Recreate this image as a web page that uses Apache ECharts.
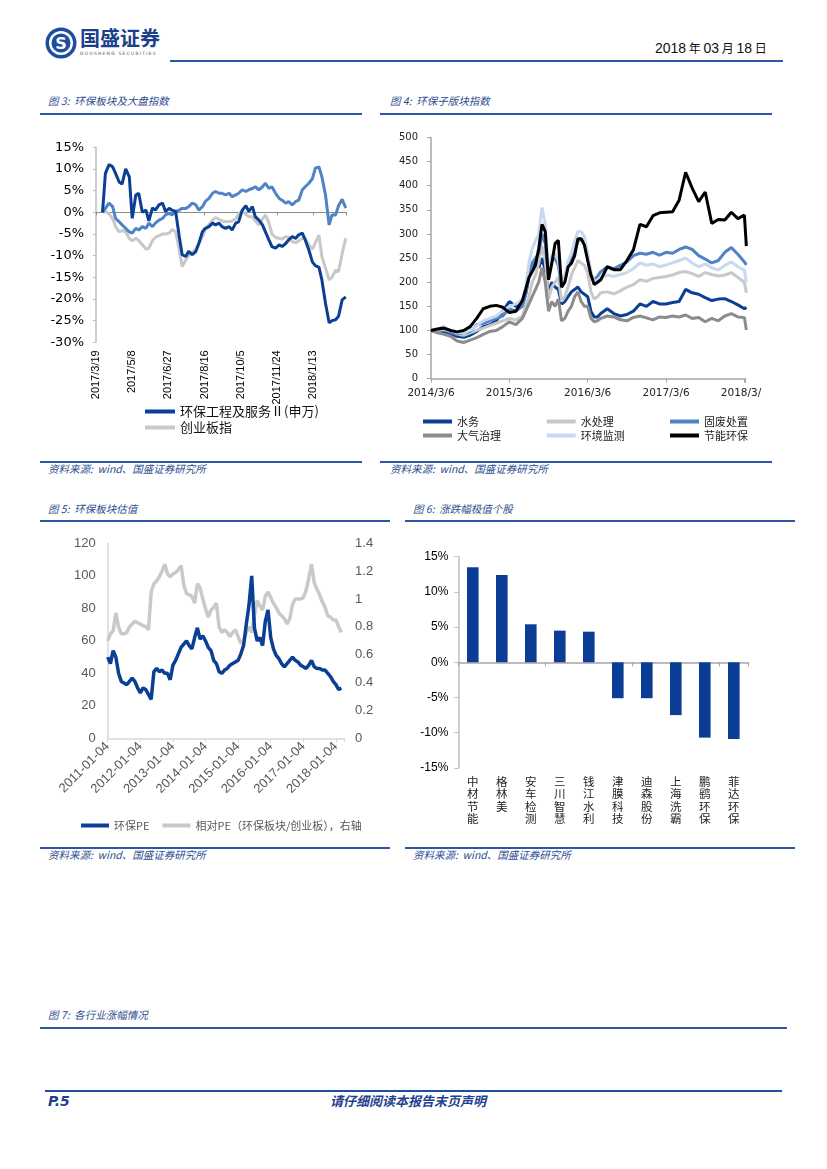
<!DOCTYPE html>
<html><head><meta charset="utf-8">
<script src="https://cdn.jsdelivr.net/npm/echarts/dist/echarts.min.js"></script>
<style>
body{margin:0;background:#fff;}
#page{position:relative;width:827px;height:1169px;overflow:hidden;background:#fff;font-family:"Noto Sans CJK SC",sans-serif;}
.t{position:absolute;white-space:nowrap;line-height:1;}
.ttl{font-size:10.5px;font-style:italic;color:#2d4e8e;}
.ln{position:absolute;height:2px;background:#2e56a3;}
.ch{position:absolute;}
</style></head><body>
<div id="page">
  <svg class="ch" style="left:44px;top:26px" width="34" height="34" viewBox="0 0 34 34">
    <circle cx="17" cy="17" r="15.5" fill="#1d4e9d"/>
    <circle cx="17" cy="17" r="12" fill="#fff"/>
    <circle cx="17" cy="17" r="9.5" fill="#1d4e9d"/>
    <text x="17" y="23" text-anchor="middle" font-family="DejaVu Sans" font-weight="bold" font-size="16" fill="#fff">S</text>
  </svg>
  <div class="t" style="left:80px;top:28px;font-size:20px;font-weight:bold;color:#1c3f8c;">国盛证券</div>
  <div class="t" style="left:80px;top:52px;font-size:4.5px;color:#555;letter-spacing:1.2px;font-family:'DejaVu Sans'">GUOSHENG SECURITIES</div>
  <div class="t" style="left:655px;top:41px;font-size:14px;color:#111;font-family:'Liberation Sans'">2018<span style="font-family:'Noto Sans CJK SC';font-size:12px"> 年 </span>03<span style="font-family:'Noto Sans CJK SC';font-size:12px"> 月 </span>18<span style="font-family:'Noto Sans CJK SC';font-size:12px"> 日</span></div>
  <div class="ln" style="left:170px;top:60px;width:613px;"></div>

  <div class="t ttl" style="left:48px;top:96px;">图 3:&nbsp; 环保板块及大盘指数</div>
  <div class="ln" style="left:40px;top:113px;width:322px;"></div>
  <div class="t ttl" style="left:390px;top:96px;">图 4:&nbsp; 环保子版块指数</div>
  <div class="ln" style="left:380px;top:113px;width:392px;"></div>

  <div class="ln" style="left:40px;top:461px;width:322px;"></div>
  <div class="t ttl" style="left:48px;top:464px;">资料来源:&nbsp; wind、国盛证券研究所</div>
  <div class="ln" style="left:380px;top:461px;width:392px;"></div>
  <div class="t ttl" style="left:390px;top:464px;">资料来源:&nbsp; wind、国盛证券研究所</div>

  <div class="t ttl" style="left:48px;top:504px;">图 5:&nbsp; 环保板块估值</div>
  <div class="ln" style="left:40px;top:520px;width:350px;"></div>
  <div class="t ttl" style="left:413px;top:504px;">图 6:&nbsp; 涨跌幅极值个股</div>
  <div class="ln" style="left:405px;top:520px;width:390px;"></div>

  <div class="ln" style="left:40px;top:847px;width:350px;"></div>
  <div class="t ttl" style="left:48px;top:850px;">资料来源:&nbsp; wind、国盛证券研究所</div>
  <div class="ln" style="left:405px;top:847px;width:390px;"></div>
  <div class="t ttl" style="left:413px;top:850px;">资料来源:&nbsp; wind、国盛证券研究所</div>

  <div class="t ttl" style="left:48px;top:1010px;">图 7:&nbsp; 各行业涨幅情况</div>
  <div class="ln" style="left:40px;top:1027px;width:747px;"></div>

  <div class="ln" style="left:45px;top:1090px;width:737px;background:#1f4f9f;"></div>
  <div class="t" style="left:48px;top:1094px;font-size:14px;font-weight:bold;font-style:italic;color:#1f3f8f;font-family:'DejaVu Sans'">P.5</div>
  <div class="t" style="left:330px;top:1094px;font-size:13px;font-weight:bold;font-style:italic;color:#1f3f8f;">请仔细阅读本报告末页声明</div>

  <div id="c3" class="ch" style="left:40px;top:120px;width:322px;height:340px;"></div>
  <div id="c4" class="ch" style="left:380px;top:120px;width:382px;height:340px;"></div>
  <div id="c5" class="ch" style="left:40px;top:525px;width:350px;height:320px;"></div>
  <div id="c6" class="ch" style="left:405px;top:525px;width:390px;height:320px;"></div>
</div>
<script>
// ---------- Figure 3 data ----------
const ticks3 = ['2017/3/19','2017/5/8','2017/6/27','2017/8/16','2017/10/5','2017/11/24','2018/1/13'];
const days3 = [9,13,18,23,27,32,36,41,46,50,55,59,64,69,73,78,82,87,92,96,101,105,110,115,119,124,128,133,138,142,147,151,156,161,165,170,174,179,184,188,193,197,202,207,211,216,220,225,230,234,239,243,248,253,257,262,266,271,276,280,285,289,294,299,303,308,312,317,322,326,331,335,340,345];
const envEng3 = [0,9,11,10.5,9,7,6.5,10,8.2,-1.4,
  4,4.4,0,0.5,-2,1,0.5,1.7,2.1,0.2,
  0.9,0.5,0.2,-5.6,-9.8,-10.2,-9,-9.8,-9,-7.2,
  -4.5,-3.7,-3.3,-2.5,-2.9,-2.5,-3.3,-3.7,-3.3,-4.1,
  -2.5,-2.2,0.5,1.5,0.2,1.3,-1,-1.8,-2.9,-4.5,
  -6.4,-7.9,-8.3,-7.5,-7.9,-7.2,-6.4,-5.6,-6,-5.2,
  -4.8,-6.4,-8.7,-11.5,-12.3,-12.7,-15.6,-21,-25.5,-25,
  -24.8,-24,-20.2,-19.5];
const gem3 = [0,0.2,-0.3,-1.5,-3.3,-4.5,-4.2,-4.5,-6,-6.6,
  -6,-6.5,-7.5,-8.5,-8.3,-6.5,-5.8,-5.4,-5,-5,
  -4.8,-4,-4.5,-8.7,-12.5,-11,-10,-9.3,-8.5,-7.2,
  -5.6,-4,-2.8,-1.8,-1.2,-1.6,-2,-2.2,-2.1,-2,
  -1.5,-0.4,0.4,-0.5,-1,-1,-2,-2.9,-1.5,-0.6,
  -2.5,-5,-5.8,-6,-6.2,-5.6,-5.8,-6.8,-7,-6.6,
  -6,-6,-7.5,-8.5,-7,-5.3,-10.2,-12.9,-15.6,-15,
  -13.3,-13.7,-9.5,-6];
const envSector3 = [0,0.9,2.1,1.3,-1.4,-2.2,-2.9,-3.7,-4.5,-4.8,
  -3.7,-4.1,-3.3,-3.7,-2.5,-3.3,-2.5,-1.8,-1.4,-0.6,
  -0.2,-0.6,0.2,0.5,0.9,0.9,1.3,2.1,1.7,0.5,
  1.3,2.5,3.2,4.4,4.8,4.4,4.4,4,4.4,3.6,
  4,4.4,5.2,4.8,5.2,5.5,5.9,5.2,5.9,6.7,
  5.5,5.9,4.4,3.2,2.8,2.1,2.5,1.7,2.5,2.8,
  5.2,5.9,6.7,7.8,10.2,10.5,8.2,4,-2.9,-0.6,
  -0.6,1.5,3,1];

// ---------- Figure 4 data (months since 2014/3/6) ----------
const ticks4 = ['2014/3/6','2015/3/6','2016/3/6','2017/3/6','2018/3/6'];
const months4 = [0,1,2,3,4,5,6,7,8,9,10,11,12,13,14,
  14.5,15,15.5,16,16.5,17,17.5,18,18.5,19,19.5,20,20.5,21,21.5,22,22.5,23,23.5,24,24.5,25,25.5,26,
  27,28,29,30,31,32,33,34,35,36,37,38,39,40,41,42,43,44,45,46,47,48,48.3];
const water4 = [100,97,98,93,88,86,90,98,108,112,120,140,160,150,155,
  175,210,230,245,230,250,225,180,200,190,185,155,160,170,180,185,190,180,175,170,140,128,128,135,
  145,135,130,133,140,155,150,160,155,155,158,160,185,178,175,168,162,165,166,160,153,145,148];
const waterTreat4 = [100,100,102,97,92,90,95,100,105,110,115,120,125,122,130,
  150,170,200,215,240,275,245,165,190,200,210,160,170,190,215,230,245,240,235,220,180,165,170,178,
  180,176,182,190,195,205,202,208,210,212,215,220,222,218,212,220,216,213,215,220,210,200,178];
const solidWaste4 = [100,102,105,98,92,95,98,112,115,120,125,130,145,140,150,
  175,215,240,250,260,300,280,210,245,250,235,190,205,235,245,265,285,290,280,250,215,205,212,222,
  232,228,235,242,255,260,258,262,256,262,260,268,273,268,255,248,240,245,262,272,258,242,236];
const air4 = [100,95,92,88,78,75,80,85,92,98,100,108,118,112,125,
  140,155,170,185,200,230,200,140,160,150,165,120,125,140,150,170,180,160,150,150,125,118,120,125,
  130,128,122,120,127,130,126,122,128,127,130,128,132,125,127,118,125,120,130,135,128,127,101];
const monitor4 = [100,103,108,100,95,95,100,110,120,125,130,140,150,155,165,
  190,240,270,285,300,355,320,220,255,260,245,200,215,245,260,285,305,305,295,260,220,200,205,210,
  215,212,216,220,228,240,235,238,232,236,240,245,250,240,232,238,230,225,235,242,232,225,200];
const energy4 = [100,103,105,100,97,100,108,125,145,150,152,148,137,140,162,
  185,210,222,235,270,320,305,205,239,280,287,190,200,232,239,255,290,290,277,245,215,195,200,205,
  232,226,226,245,267,320,315,338,344,345,346,370,428,395,367,387,322,330,329,345,332,339,275];

// ---------- Figure 5 data (monthly from 2011-01) ----------
const ticks5 = ['2011-01-04','2012-01-04','2013-01-04','2014-01-04','2015-01-04','2016-01-04','2017-01-04','2018-01-04'];
const pe5 = [50,46,54,50,40,35,34,33,35,37,
  35,31,28,31,30,27,24,41,43,41,
  42,40,40,36,45,48,52,56,58,60,
  57,55,62,68,61,63,60,56,54,48,
  46,41,40,42,43,45,46,47,48,52,
  57,70,82,100,68,60,62,57,72,79,
  62,55,51,49,46,44,46,48,50,48,
  47,45,44,43,45,48,44,43,43,42,
  42,40,38,35,33,30,31];
const relPe5 = [0.70,0.75,0.77,0.90,0.80,0.75,0.75,0.76,0.80,0.82,
  0.84,0.83,0.82,0.81,0.80,0.78,1.05,1.11,1.13,1.16,
  1.20,1.25,1.18,1.16,1.18,1.19,1.21,1.24,1.10,1.04,
  1.03,1.02,0.97,1.11,1.08,1.00,0.93,0.87,0.92,0.94,
  0.97,0.80,0.76,0.78,0.76,0.73,0.76,0.78,0.73,0.68,
  0.70,0.76,0.80,0.76,0.88,0.99,0.95,0.92,1.02,1.05,
  1.01,0.97,0.94,0.90,0.88,0.86,0.82,0.86,0.96,1.00,
  1.00,1.00,1.01,1.06,1.15,1.25,1.12,1.07,1.03,0.98,
  0.94,0.88,0.87,0.85,0.85,0.80,0.76];

// ---------- Figure 6 data ----------
const stocks6 = ['中材节能','格林美','安车检测','三川智慧','钱江水利','津膜科技','迪森股份','上海洗霸','鹏鹞环保','菲达环保'];
const change6 = [13.5,12.4,5.4,4.5,4.35,-5.1,-5.1,-7.5,-10.7,-10.9];

const CJK = 'Noto Sans CJK SC';
const pair = (xs, ys) => ys.map((v, i) => [xs[i], v]);
const months5 = pe5.map((_, i) => i);

// ---------- Chart 3 ----------
const c3 = echarts.init(document.getElementById('c3'));
c3.setOption({
  animation: false,
  grid: {left: 56, top: 27.3, width: 250.5, height: 195, outerBoundsMode: 'none'},
  legend: {orient: 'vertical', left: 100, top: 280, itemWidth: 30, itemHeight: 4, itemGap: 3, icon: 'rect',
    data: ['环保工程及服务Ⅱ(申万)', '创业板指'],
    textStyle: {fontFamily: CJK, fontSize: 13, color: '#111'}},
  xAxis: [
    {type: 'value', min: 0, max: 346, interval: 50, position: 'bottom',
     axisLine: {show: false, onZero: false}, axisTick: {show: false}, splitLine: {show: false},
     axisLabel: {rotate: 90, margin: 8, fontFamily: 'Liberation Sans', fontSize: 11, color: '#000',
       formatter: v => (v % 50 === 0 && ticks3[v / 50]) ? ticks3[v / 50] : ''}},
    {type: 'value', min: 0, max: 346, interval: 50, position: 'bottom',
     axisLine: {show: true, onZero: true, lineStyle: {color: '#8c8c8c', width: 1}},
     axisTick: {show: true, length: 3, lineStyle: {color: '#8c8c8c'}},
     axisLabel: {show: false}, splitLine: {show: false}}
  ],
  yAxis: {type: 'value', min: -30, max: 15, interval: 5,
    axisLine: {show: true, lineStyle: {color: '#bfbfbf', width: 1.5}},
    axisTick: {show: true, length: 3, lineStyle: {color: '#bfbfbf'}}, splitLine: {show: false},
    axisLabel: {formatter: '{value}%', fontFamily: 'DejaVu Sans', fontSize: 13, color: '#000', margin: 12}},
  series: [
    {name: '创业板指', type: 'line', symbol: 'none', data: pair(days3, gem3),
     lineStyle: {width: 3, color: '#c8c8c8'}, itemStyle: {color: '#c8c8c8'}},
    {name: '环保板块', type: 'line', symbol: 'none', data: pair(days3, envSector3),
     lineStyle: {width: 3, color: '#4f82c6'}, itemStyle: {color: '#4f82c6'}},
    {name: '环保工程及服务Ⅱ(申万)', type: 'line', symbol: 'none', data: pair(days3, envEng3),
     lineStyle: {width: 3, color: '#0b3f94'}, itemStyle: {color: '#0b3f94'}}
  ]
});

// ---------- Chart 4 ----------
const c4 = echarts.init(document.getElementById('c4'));
const lg4 = (left, names) => ({orient: 'vertical', left: left, top: 291, itemWidth: 29, itemHeight: 4, itemGap: 3,
  icon: 'rect', data: names, textStyle: {fontFamily: CJK, fontSize: 11, color: '#222'}});
const s4 = (name, data, color) => ({name: name, type: 'line', symbol: 'none', data: pair(months4, data),
  lineStyle: {width: 3, color: color}, itemStyle: {color: color}});
c4.setOption({
  animation: false,
  grid: {left: 51, top: 17.5, width: 314.7, height: 241.2, outerBoundsMode: 'none'},
  legend: [lg4(38, ['水务', '大气治理']), lg4(161.7, ['水处理', '环境监测']), lg4(285, ['固废处置', '节能环保'])],
  xAxis: {type: 'value', min: 0, max: 48.2, interval: 12,
    axisLine: {show: true, lineStyle: {color: '#a6a6a6', width: 1.5}},
    axisTick: {show: true, length: 4, lineStyle: {color: '#a6a6a6'}}, splitLine: {show: false},
    axisLabel: {margin: 9, fontFamily: 'DejaVu Sans', fontSize: 10.5, color: '#222',
      formatter: v => (v % 12 === 0 && ticks4[v / 12]) ? ticks4[v / 12] : ''}},
  yAxis: {type: 'value', min: 0, max: 500, interval: 50,
    axisLine: {show: true, lineStyle: {color: '#a6a6a6', width: 1.5}},
    axisTick: {show: true, length: 4, lineStyle: {color: '#a6a6a6'}}, splitLine: {show: false},
    axisLabel: {fontFamily: 'DejaVu Sans', fontSize: 10, color: '#222', margin: 13}},
  series: [
    s4('水务', water4, '#0b3f94'),
    s4('水处理', waterTreat4, '#c8c8c8'),
    s4('固废处置', solidWaste4, '#4f82c6'),
    s4('大气治理', air4, '#8c8c8c'),
    s4('环境监测', monitor4, '#c6d9f0'),
    s4('节能环保', energy4, '#000000')
  ]
});

// ---------- Chart 5 ----------
const c5 = echarts.init(document.getElementById('c5'));
c5.setOption({
  animation: false,
  grid: {left: 67.7, top: 18.3, width: 236.4, height: 195, outerBoundsMode: 'none'},
  legend: {left: 36, top: 290, itemWidth: 28, itemHeight: 4, itemGap: 13, icon: 'rect',
    data: ['环保PE', '相对PE（环保板块/创业板），右轴'],
    textStyle: {fontFamily: CJK, fontSize: 11, color: '#595959'}},
  xAxis: {type: 'value', min: 0, max: 87, interval: 12,
    axisLine: {show: true, lineStyle: {color: '#d9d9d9', width: 1.5}},
    axisTick: {show: true, length: 4, lineStyle: {color: '#d9d9d9'}}, splitLine: {show: false},
    axisLabel: {rotate: 45, margin: 6, fontFamily: 'Liberation Sans', fontSize: 13, color: '#595959',
      formatter: v => (v % 12 === 0 && ticks5[v / 12]) ? ticks5[v / 12] : ''}},
  yAxis: [
    {type: 'value', min: 0, max: 120, interval: 20,
     axisLine: {show: true, lineStyle: {color: '#d9d9d9', width: 1.5}}, axisTick: {show: false}, splitLine: {show: false},
     axisLabel: {fontFamily: 'Liberation Sans', fontSize: 13, color: '#595959', margin: 12}},
    {type: 'value', min: 0, max: 1.4, interval: 0.2, position: 'right',
     axisLine: {show: false}, axisTick: {show: false}, splitLine: {show: false},
     axisLabel: {fontFamily: 'Liberation Sans', fontSize: 13, color: '#595959', margin: 11,
       formatter: v => String(Math.round(v * 10) / 10)}}
  ],
  series: [
    {name: '相对PE（环保板块/创业板），右轴', type: 'line', yAxisIndex: 1, symbol: 'none', data: pair(months5, relPe5),
     lineStyle: {width: 3.5, color: '#c9c9c9'}, itemStyle: {color: '#c9c9c9'}},
    {name: '环保PE', type: 'line', yAxisIndex: 0, symbol: 'none', data: pair(months5, pe5),
     lineStyle: {width: 3.5, color: '#0b3f94'}, itemStyle: {color: '#0b3f94'}}
  ]
});

// ---------- Chart 6 ----------
const c6 = echarts.init(document.getElementById('c6'));
c6.setOption({
  animation: false,
  grid: {left: 53.3, top: 31.7, width: 290, height: 211.2, outerBoundsMode: 'none'},
  xAxis: [
    {type: 'category', data: stocks6, position: 'bottom',
     axisLine: {show: false, onZero: false}, axisTick: {show: false},
     axisLabel: {interval: 0, margin: 7, fontFamily: CJK, fontSize: 11.5, lineHeight: 12.5, color: '#222',
       formatter: s => s.split('').join('\n')}},
    {type: 'category', data: stocks6, position: 'bottom',
     axisLine: {show: true, onZero: true, lineStyle: {color: '#a6a6a6', width: 1.5}},
     axisTick: {show: true, length: 4, lineStyle: {color: '#a6a6a6'}}, axisLabel: {show: false}}
  ],
  yAxis: {type: 'value', min: -15, max: 15, interval: 5,
    axisLine: {show: true, lineStyle: {color: '#bfbfbf', width: 1.5}},
    axisTick: {show: true, length: 4, lineStyle: {color: '#bfbfbf'}}, splitLine: {show: false},
    axisLabel: {formatter: '{value}%', fontFamily: 'Liberation Sans', fontSize: 12, color: '#000', margin: 10}},
  series: [{type: 'bar', xAxisIndex: 0, data: change6, barWidth: '40%', itemStyle: {color: '#0a3e96'}}]
});
</script>
</body></html>
